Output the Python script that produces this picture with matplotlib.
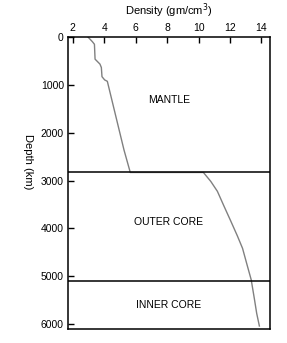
import matplotlib
matplotlib.use("Agg")
import matplotlib.pyplot as plt

# densidad (gm/cm3) vs profundidad (km)
depth = [0, 97, 151, 462, 565, 636, 828, 896, 925, 2360, 2830,
         2830, 3017, 3224, 3534, 3845, 4155, 4416, 4776, 5072, 5466, 5776, 6039]
density = [2.97, 3.25, 3.38, 3.42, 3.73, 3.82, 3.86, 4.03, 4.2, 5.26, 5.66,
           10.31, 10.78, 11.2, 11.62, 12.05, 12.47, 12.8, 13.1, 13.35, 13.55, 13.7, 13.87]

# limites entre capas
boundaries = [2830, 5090]
layer_names = ["MANTLE", "OUTER CORE", "INNER CORE"]
layer_depths = [1325, 3870, 5610]

xticks = [2, 4, 6, 8, 10, 12, 14]
yticks = [0, 1000, 2000, 3000, 4000, 5000, 6000]

plt.rcParams['font.family'] = ['Liberation Sans', 'DejaVu Sans']
fig = plt.figure(figsize=(2.87, 3.43), dpi=100)
ax = fig.add_axes([0.237, 0.041, 0.704, 0.851])

ax.plot(density, depth, color='#808080', lw=1)
for b in boundaries:
    ax.axhline(b, color='black', lw=1.1)
for name, d in zip(layer_names, layer_depths):
    ax.text(8.1, d, name, ha='center', va='center', fontsize=7.5)

ax.set_xlim(1.7, 14.55)
ax.set_ylim(6100, 0)
ax.xaxis.tick_top()
ax.xaxis.set_label_position('top')
ax.set_xticks(xticks)
ax.set_yticks(yticks)
ax.tick_params(direction='in', length=4, width=1, labelsize=7.5, pad=3)
ax.set_xlabel('Density (gm/cm$^3$)', fontsize=8, labelpad=6)
ax.set_ylabel('Depth (km)', fontsize=8, rotation=270, va='center')
ax.yaxis.set_label_coords(-0.2, 0.572)
for s in ax.spines.values():
    s.set_linewidth(1.1)

fig.savefig('out.png', dpi=100)
